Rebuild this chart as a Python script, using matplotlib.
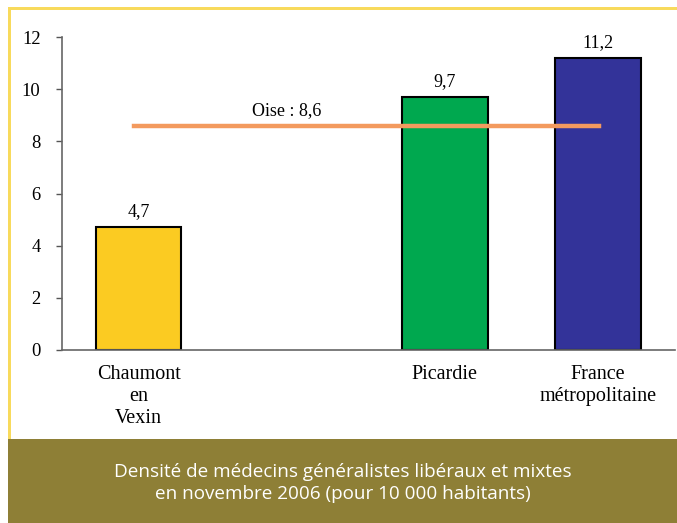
import matplotlib
matplotlib.use("Agg")
import matplotlib.pyplot as plt
from matplotlib.patches import Rectangle

categories = ["Chaumont\nen\nVexin", "", "Picardie", "France\nmétropolitaine"]
values = [4.7, None, 9.7, 11.2]
value_labels = ["4,7", "", "9,7", "11,2"]
bar_colors = ["#FBCB22", "#FFFFFF", "#00A84F", "#333399"]
oise_value = 8.6
oise_label = "Oise : 8,6"
yticks = [0, 2, 4, 6, 8, 10, 12]
caption = "Densité de médecins généralistes libéraux et mixtes\nen novembre 2006 (pour 10 000 habitants)"

W, H = 677, 523
fig = plt.figure(figsize=(W / 100, H / 100), dpi=100)
fig.patch.set_facecolor("white")

# decorative frame
fig.add_artist(Rectangle((8 / W, 0), 3 / W, 1 - 7 / H, transform=fig.transFigure,
                         facecolor="#F8DA5C", edgecolor="none"))
fig.add_artist(Rectangle((8 / W, 1 - 10 / H), 1 - 8 / W, 3 / H, transform=fig.transFigure,
                         facecolor="#F8DA5C", edgecolor="none"))
fig.add_artist(Rectangle((8 / W, 0), 1 - 8 / W, (H - 439) / H, transform=fig.transFigure,
                         facecolor="#8E7F36", edgecolor="none"))
fig.text((8 + W) / 2 / W, 1 - 483 / H, caption, ha="center", va="center", color="white",
         fontsize=13.6, family="Open Sans", linespacing=1.3)

ax = fig.add_axes([62 / W, (H - 350) / H, (674.5 - 62) / W, (350 - 37) / H])
ax.set_facecolor("none")
x = list(range(len(categories)))
for i, (v, c) in enumerate(zip(values, bar_colors)):
    if v is None:
        continue
    ax.bar(i, v, width=0.56, color=c, edgecolor="black", linewidth=1.5, zorder=2)
    ax.annotate(value_labels[i], (i, v), xytext=(0, 5), textcoords="offset points",
                ha="center", va="bottom", fontsize=13, family="Liberation Serif")

ax.plot([0 - 0.03, 3.01], [oise_value, oise_value], color="#F39A5E", linewidth=3.2, zorder=3)
ax.text(0.97, oise_value + 0.25, oise_label, ha="center", va="bottom", fontsize=13,
        family="Liberation Serif")

ax.set_xlim(-0.5, 3.5)
ax.set_ylim(0, 12)
ax.set_yticks(yticks)
ax.set_yticklabels([str(t) for t in yticks], family="Liberation Serif", fontsize=13.3)
ax.set_xticks(x)
ax.set_xticklabels(categories, family="Liberation Serif", fontsize=14.5, linespacing=1.2)
ax.tick_params(axis="x", length=0, pad=11)
ax.tick_params(axis="y", length=4.5, width=1, color="#555555", pad=11)
for s in ["top", "right"]:
    ax.spines[s].set_visible(False)
ax.spines["left"].set_color("#666666")
ax.spines["bottom"].set_color("#666666")
ax.spines["left"].set_linewidth(1.2)
ax.spines["bottom"].set_linewidth(1.2)

fig.savefig("out.png", dpi=100)
